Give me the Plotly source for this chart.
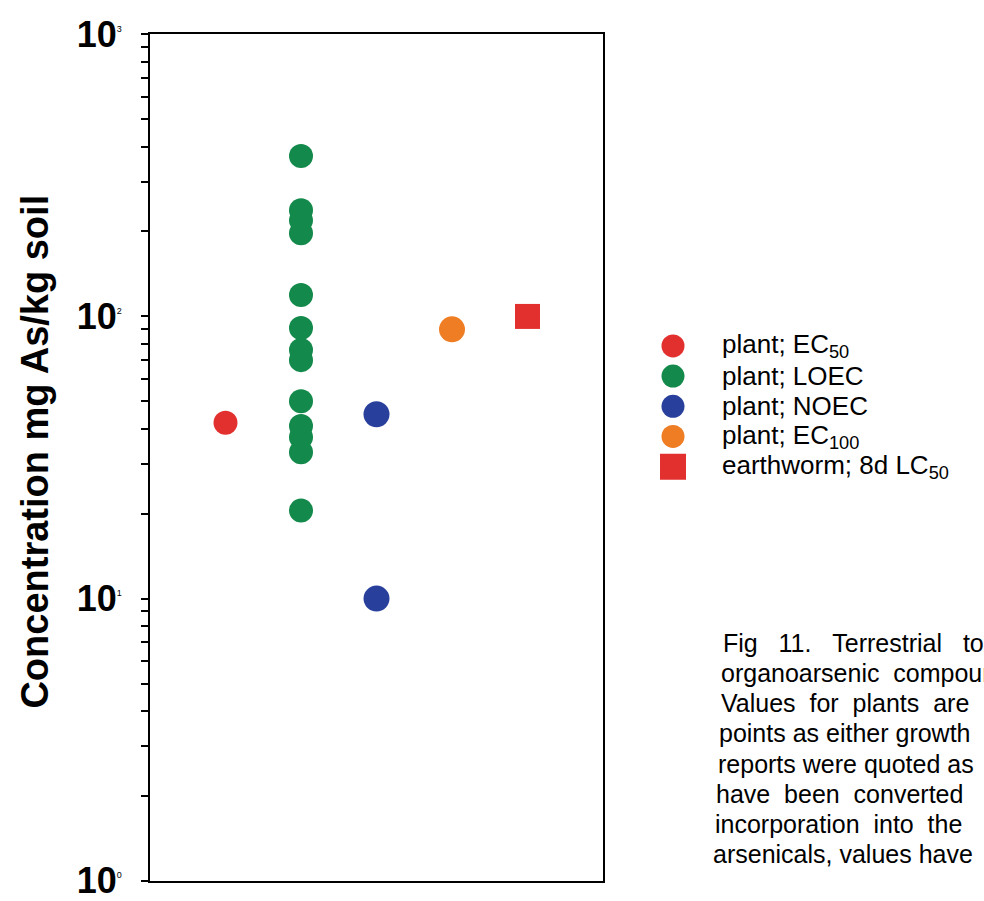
import plotly.graph_objects as go

# ---- data ----
series_names = [
    "plant; EC<sub>50</sub>",
    "plant; LOEC",
    "plant; NOEC",
    "plant; EC<sub>100</sub>",
    "earthworm; 8d LC<sub>50</sub>",
]
series_pos = [1, 2, 3, 4, 5]
plant_ec50 = [42]
plant_loec = [370, 238, 219, 197, 119, 91, 76, 70, 50, 40.9, 37.3, 33, 20.5]
plant_noec = [45, 10]
plant_ec100 = [90]
earthworm_lc50 = [100]
series_values = [plant_ec50, plant_loec, plant_noec, plant_ec100, earthworm_lc50]

series_colors = ["#e2302f", "#138a4b", "#28409c", "#ee7d23", "#e2302f"]
series_symbols = ["circle", "circle", "circle", "circle", "square"]
series_sizes = [24, 24, 26, 26, 25]
legend_sizes = [23, 23, 23, 23, 26]

ytick_vals = [1, 10, 100, 1000]
ytick_exps = ["0", "1", "2", "3"]

caption_lines = [
    "Fig 11. Terrestrial toxicity",
    "organoarsenic compounds",
    "Values for plants are",
    "points as either growth",
    "reports were quoted as",
    "have been converted",
    "incorporation into the",
    "arsenicals, values have",
]
caption_gaps = [3, 2, 2, 1, 1, 2, 2, 1]
caption_left = [721, 719, 719, 717, 716, 714, 713, 711]

# ---- layout geometry (pixels) ----
W, H = 984, 901
L, R, T, B = 150, 0, 34, 17
pw, ph = W - L - R, H - T - B
plot_right = 603
leg_left = 650
leg_row0, leg_row_h = 347, 30.3
n_rows = len(series_names)

fig = go.Figure()
for name, pos, vals, col, sym, sz in zip(series_names, series_pos, series_values,
                                          series_colors, series_symbols, series_sizes):
    fig.add_trace(go.Scatter(
        x=[pos] * len(vals), y=vals, mode="markers", name=name, showlegend=False,
        marker=dict(color=col, symbol=sym, size=sz, opacity=1, line=dict(width=0)),
        xaxis="x", yaxis="y",
    ))

# legend key drawn on its own small axis (row index -> row)
leg_rows = list(range(n_rows))
fig.add_trace(go.Scatter(
    x=[23] * n_rows, y=leg_rows, mode="markers", showlegend=False, hoverinfo="skip",
    marker=dict(color=series_colors, symbol=series_symbols, size=legend_sizes,
                opacity=1, line=dict(width=0)),
    xaxis="x2", yaxis="y2",
))
for r, name in zip(leg_rows, series_names):
    fig.add_annotation(
        xref="x2", yref="y2", x=70, y=r, text=name, showarrow=False,
        xanchor="left", yanchor="middle", font=dict(size=26, color="black"),
    )

leg_top = leg_row0 - leg_row_h / 2
leg_bot = leg_top + leg_row_h * n_rows

ytick_text = [
    "<b>10</b><sup><span style='font-size:9px;font-weight:normal'>%s</span></sup>" % e
    for e in ytick_exps
]
minor_vals = [m * 10 ** e for e in range(3) for m in range(2, 10)]

fig.update_layout(
    width=W, height=H,
    margin=dict(l=L, r=R, t=T, b=B),
    paper_bgcolor="white", plot_bgcolor="rgba(0,0,0,0)",
    font=dict(family="Liberation Sans, Arial, sans-serif", color="black"),
    showlegend=False,
    xaxis=dict(
        domain=[0, (plot_right - L) / pw], anchor="y",
        range=[0, 6], showgrid=False, zeroline=False, showticklabels=False,
        ticks="", showline=True, linecolor="black", linewidth=2, mirror=True,
    ),
    yaxis=dict(
        anchor="x",
        type="log", range=[-0.001, 3.001], showgrid=False, zeroline=False,
        tickmode="array", tickvals=ytick_vals, ticktext=ytick_text,
        tickfont=dict(size=36, color="black"),
        ticks="outside", ticklen=7, tickwidth=2, tickcolor="black",
        ticklabelstandoff=12, ticklabeloverflow="allow",
        minor=dict(tickmode="array", tickvals=minor_vals, ticks="outside",
                   ticklen=7, tickwidth=2, tickcolor="black", showgrid=False),
        showline=True, linecolor="black", linewidth=2, mirror=True,
    ),
    xaxis2=dict(domain=[(leg_left - L) / pw, 1], range=[0, W - leg_left],
                visible=False, anchor="y2"),
    yaxis2=dict(domain=[(H - B - leg_bot) / ph, (H - B - leg_top) / ph],
                range=[n_rows - 0.5, -0.5], visible=False, anchor="x2"),
)

# y-axis title
fig.add_annotation(
    xref="paper", yref="paper", x=(35 - L) / pw, y=0.507,
    text="<b>Concentration mg As/kg soil</b>", textangle=-90,
    showarrow=False, font=dict(size=38, color="black"),
    xanchor="center", yanchor="middle",
)

# caption (cut by the page edge as in the reference)
for i, (line, gap, lx) in enumerate(zip(caption_lines, caption_gaps, caption_left)):
    txt = line.replace(" ", "\u00a0" * gap)
    fig.add_annotation(
        xref="paper", yref="paper",
        x=(lx - L) / pw, y=(H - B - (645 + 30.3 * i)) / ph,
        text=txt, showarrow=False, xanchor="left", yanchor="middle",
        font=dict(size=25, color="black"),
    )

fig.write_html(
    "out.html", config={"displayModeBar": False},
    post_script=(
        "document.documentElement.style.overflow='hidden';"
        "document.body.style.margin='0';document.body.style.overflow='hidden';"
        "window.scrollTo(0,0);"
    ),
)
